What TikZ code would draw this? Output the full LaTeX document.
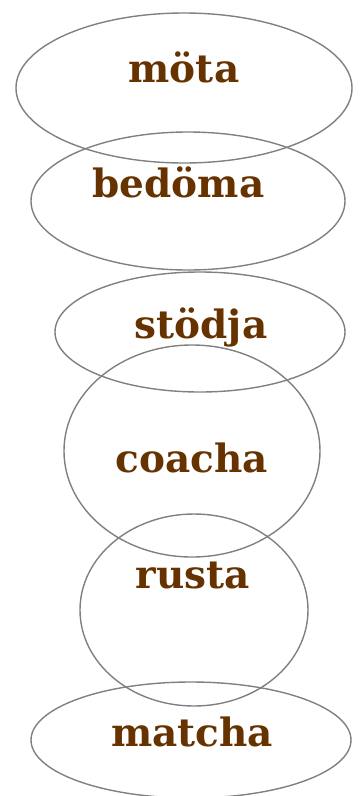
\documentclass[tikz,border=0pt]{standalone}
\usepackage{fontspec}
\setmainfont{DejaVu Serif}
\definecolor{lbl}{HTML}{663300}
\definecolor{ring}{HTML}{808080}
\begin{document}
\begin{tikzpicture}[x=1pt,y=-1pt,
  ring/.style={draw=ring,line width=1.4pt},
  word/.style={anchor=base,inner sep=0pt,text=lbl,font=\fontsize{39}{44}\selectfont\bfseries}]
\useasboundingbox (0,0) rectangle (361,796);
\draw[ring] (184,88) ellipse [x radius=168,y radius=75];
\draw[ring] (188,201) ellipse [x radius=157,y radius=69];
\draw[ring] (200,332) ellipse [x radius=145,y radius=60];
\draw[ring] (192,451) ellipse [x radius=128,y radius=106];
\draw[ring] (194,610) ellipse [x radius=114,y radius=96];
\draw[ring] (191,740) ellipse [x radius=160,y radius=58];
\node[word] (mota) at (184,82) {möta};
\node[word] (bedoma) at (178.5,197) {bedöma};
\node[word] (stodja) at (201,338) {stödja};
\node[word] (coacha) at (192,472) {coacha};
\node[word] (rusta) at (193,588) {rusta};
\node[word] (matcha) at (192,746) {matcha};
\end{tikzpicture}
\end{document}
